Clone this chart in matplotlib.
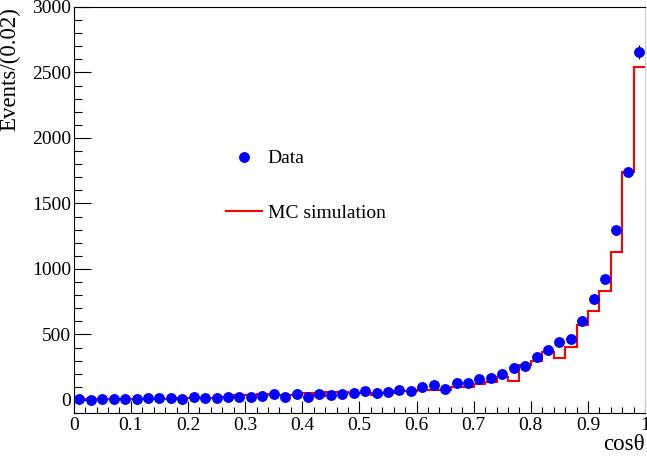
import numpy as np
import matplotlib
matplotlib.use("Agg")
import matplotlib.pyplot as plt
from matplotlib.ticker import MultipleLocator, FormatStrFormatter

plt.rcParams['font.family'] = ['Liberation Serif', 'DejaVu Serif']

# bin edges of cos(theta), width 0.02
edges = np.linspace(0, 1, 51)
centers = 0.5 * (edges[:-1] + edges[1:])

data = [5, 3, 10, 5, 8, 5, 15, 12, 18, 5,
        20, 12, 15, 25, 20, 20, 30, 43, 25, 43,
        25, 48, 36, 48, 56, 71, 56, 64, 76, 71,
        97, 112, 87, 130, 130, 158, 165, 201, 247, 257,
        326, 379, 443, 463, 600, 771, 924, 1298, 1740, 2655]

mc = [5, 5, 5, 5, 5, 8, 10, 10, 10, 18,
      18, 18, 18, 25, 40, 40, 42, 38, 40, 40,
      50, 32, 60, 58, 52, 50, 36, 56, 65, 72,
      75, 75, 75, 100, 102, 125, 140, 176, 145, 270,
      298, 366, 323, 405, 570, 677, 835, 1132, 1740, 2540]

data = np.array(data, dtype=float)
mc = np.array(mc, dtype=float)

fig = plt.figure(figsize=(6.47, 4.61), dpi=100)
ax = fig.add_axes([0.114, 0.104, 0.883, 0.881])

line_mc = ax.stairs(mc, edges, baseline=None, color='red', lw=1.5, zorder=2)
ax.errorbar(centers, data, yerr=np.sqrt(data), fmt='none',
            ecolor='black', elinewidth=0.8, capsize=0, zorder=3)
pts, = ax.plot(centers, data, 'o', color='blue', markersize=6.8, zorder=4)

ax.set_xlim(0, 1)
ax.set_ylim(-100, 3000)

ax.xaxis.set_major_locator(MultipleLocator(0.1))
ax.xaxis.set_minor_locator(MultipleLocator(0.02))
ax.yaxis.set_major_locator(MultipleLocator(500))
ax.yaxis.set_minor_locator(MultipleLocator(100))
ax.xaxis.set_major_formatter(FormatStrFormatter('%g'))

ax.tick_params(which='both', direction='in', top=False, right=False,
               labelsize=14)
ax.tick_params(axis='y', which='major', length=12, width=0.8, pad=2)
ax.tick_params(axis='y', which='minor', length=6, width=0.8)
ax.tick_params(axis='x', which='major', length=9, width=0.8, pad=3)
ax.tick_params(axis='x', which='minor', length=4.5, width=0.8)

ax.spines['right'].set_color('#cccccc')
ax.spines['right'].set_linewidth(0.8)

ax.set_xlabel('cosθ', fontsize=16.5, loc='right', labelpad=0)
ax.set_ylabel('Events/(0.02)', fontsize=16.5, loc='top', labelpad=8)

mc_handle = plt.Line2D([], [], color='red', lw=1.5)
ax.legend([pts, mc_handle], ['Data', 'MC simulation'], loc='upper left',
          bbox_to_anchor=(0.266, 0.648), frameon=False, fontsize=14,
          handlelength=1.85, handletextpad=0.3, labelspacing=1.9,
          borderpad=0, borderaxespad=0)

fig.savefig('out.png', dpi=100)
